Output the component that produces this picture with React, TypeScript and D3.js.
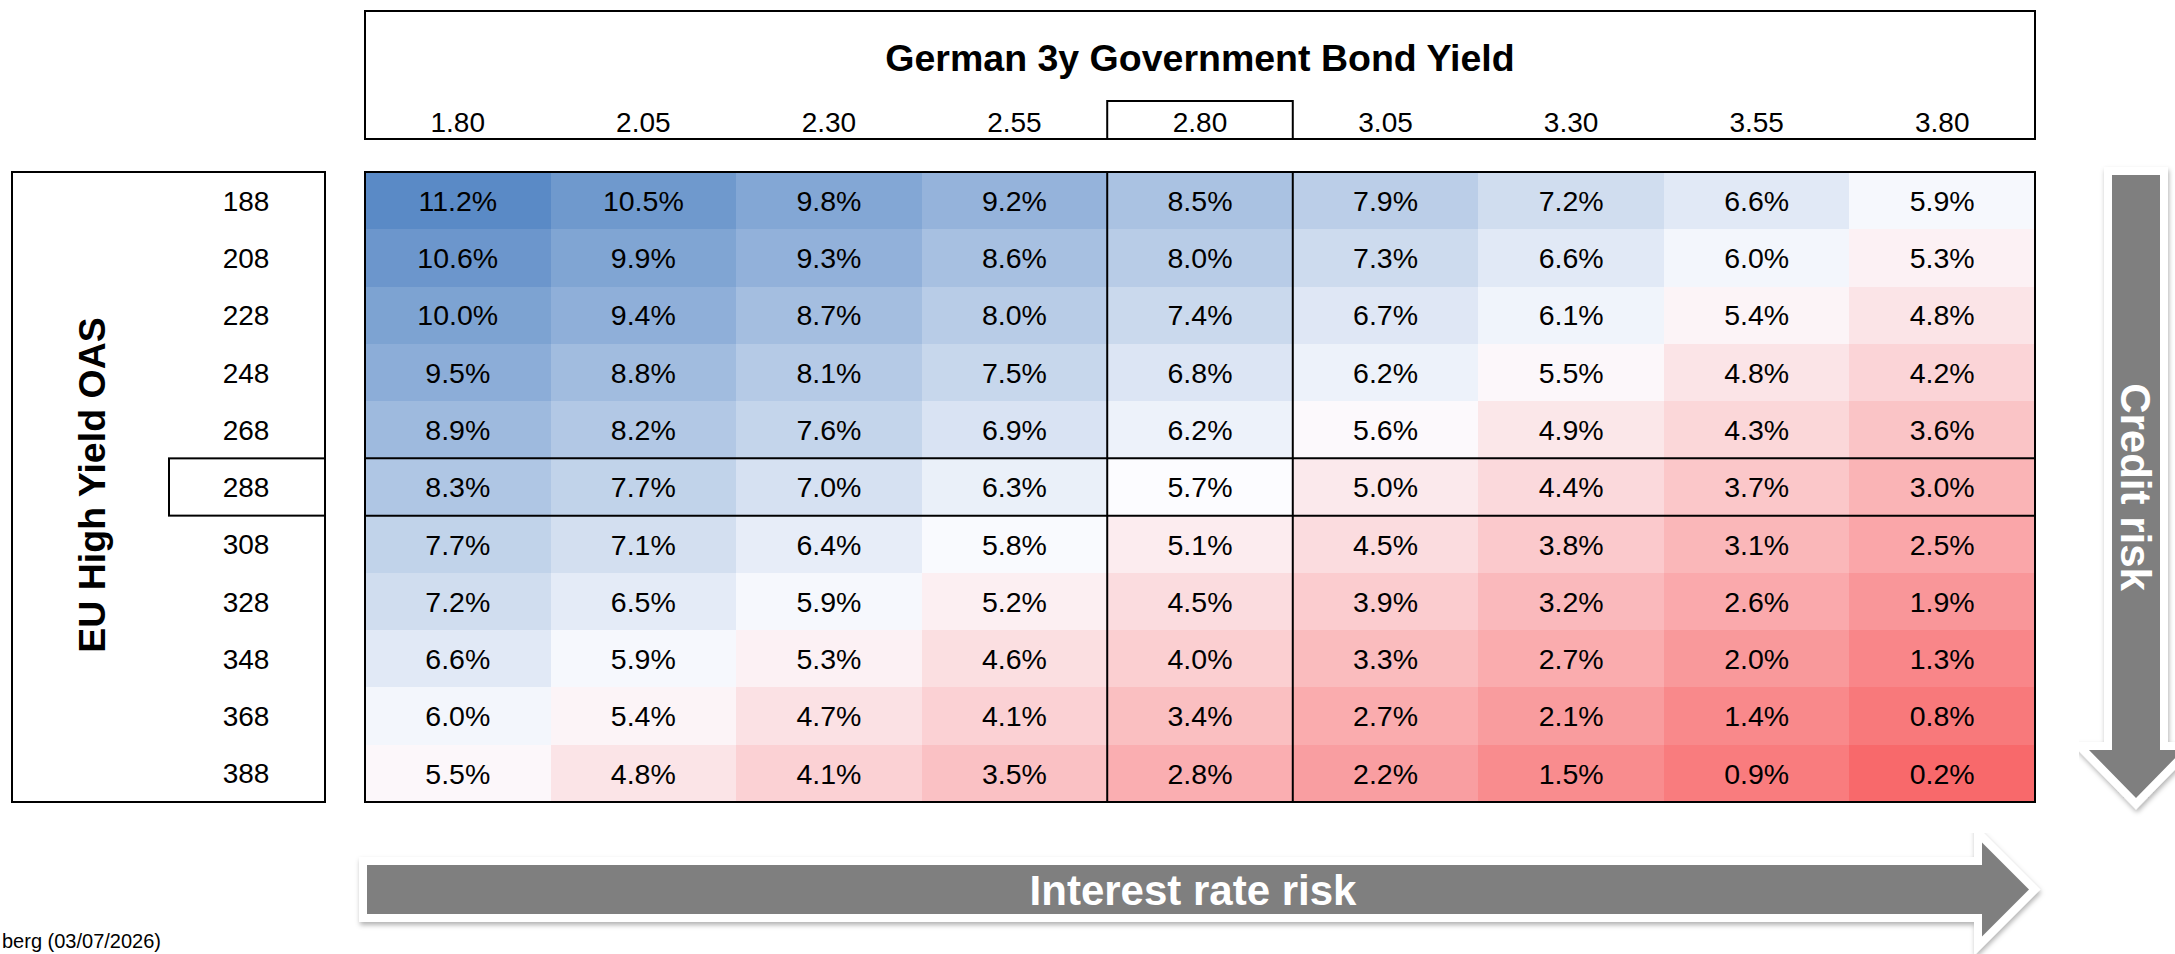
import React from "react";
import * as d3 from "d3";

const bundYields = ["1.80", "2.05", "2.30", "2.55", "2.80", "3.05", "3.30", "3.55", "3.80"];
const hySpreads = ["188", "208", "228", "248", "268", "288", "308", "328", "348", "368", "388"];
const currentYield = "2.80";
const currentSpread = "288";

// Expected total return (%) — rows: spread, columns: yield
const row188 = [11.2, 10.5, 9.8, 9.2, 8.5, 7.9, 7.2, 6.6, 5.9];
const row208 = [10.6, 9.9, 9.3, 8.6, 8.0, 7.3, 6.6, 6.0, 5.3];
const row228 = [10.0, 9.4, 8.7, 8.0, 7.4, 6.7, 6.1, 5.4, 4.8];
const row248 = [9.5, 8.8, 8.1, 7.5, 6.8, 6.2, 5.5, 4.8, 4.2];
const row268 = [8.9, 8.2, 7.6, 6.9, 6.2, 5.6, 4.9, 4.3, 3.6];
const row288 = [8.3, 7.7, 7.0, 6.3, 5.7, 5.0, 4.4, 3.7, 3.0];
const row308 = [7.7, 7.1, 6.4, 5.8, 5.1, 4.5, 3.8, 3.1, 2.5];
const row328 = [7.2, 6.5, 5.9, 5.2, 4.5, 3.9, 3.2, 2.6, 1.9];
const row348 = [6.6, 5.9, 5.3, 4.6, 4.0, 3.3, 2.7, 2.0, 1.3];
const row368 = [6.0, 5.4, 4.7, 4.1, 3.4, 2.7, 2.1, 1.4, 0.8];
const row388 = [5.5, 4.8, 4.1, 3.5, 2.8, 2.2, 1.5, 0.9, 0.2];
const grid = [row188, row208, row228, row248, row268, row288, row308, row328, row348, row368, row388];

const titleTop = "German 3y Government Bond Yield";
const titleLeft = "EU High Yield OAS";
const arrowRight = "Credit risk";
const arrowBottom = "Interest rate risk";
const sourceText = "berg (03/07/2026)";

const W = 2175;
const H = 954;
const FONT = "'Liberation Sans', Arial, Helvetica, sans-serif";

export default function App() {
  const x = d3.scaleBand<string>().domain(bundYields).range([365, 2035]);
  const y = d3.scaleBand<string>().domain(hySpreads).range([172, 802]);
  const bw = x.bandwidth();
  const bh = y.bandwidth();

  const all = grid.flat();
  const vMin = d3.min(all) as number;
  const vMax = d3.max(all) as number;
  const vMid = d3.median(all) as number;
  const color = d3
    .scaleLinear<string>()
    .domain([vMin, vMid, vMax])
    .range(["#F8696B", "#FCFCFF", "#5A8AC6"])
    .interpolate(d3.interpolateRgb);
  const fmt = d3.format(".1f");

  const [x0, x1] = x.range();
  const [y0, y1] = y.range();

  // horizontal arrow geometry
  const hx0 = 367, hx1 = 1982, hcy = 889.5, hs = 24.5, hh = 47, htip = 2029;
  const hPath = `M${hx0},${hcy - hs}L${hx1},${hcy - hs}L${hx1},${hcy - hh}L${htip},${hcy}L${hx1},${hcy + hh}L${hx1},${hcy + hs}L${hx0},${hcy + hs}Z`;
  // vertical arrow geometry
  const vcx = 2136, vy0 = 175, vy1 = 750, vs = 24, vh = 47, vtip = 798;
  const vPath = `M${vcx - vs},${vy0}L${vcx + vs},${vy0}L${vcx + vs},${vy1}L${vcx + vh},${vy1}L${vcx},${vtip}L${vcx - vh},${vy1}L${vcx - vs},${vy1}L${vcx - vs},${vy0}Z`;

  const selX = x(currentYield) as number;
  const selY = y(currentSpread) as number;

  return (
    <svg
      width={W}
      height={H}
      viewBox={`0 0 ${W} ${H}`}
      style={{ position: "absolute", left: 0, top: 0, display: "block", background: "#fff" }}
      fontFamily={FONT}
    >
      <defs>
        <filter id="shadow" x="-10%" y="-10%" width="120%" height="130%">
          <feDropShadow dx="1" dy="3" stdDeviation="2.5" floodColor="#000" floodOpacity="0.3" />
        </filter>
      </defs>
      <rect x={0} y={0} width={W} height={H} fill="#fff" />

      {/* header box */}
      <rect x={x0} y={11} width={x1 - x0} height={128} fill="none" stroke="#000" strokeWidth={2} />
      <text x={(x0 + x1) / 2} y={71} textAnchor="middle" fontSize={37.5} fontWeight="bold" fill="#000">
        {titleTop}
      </text>
      {bundYields.map((c) => (
        <text key={c} x={(x(c) as number) + bw / 2} y={132} textAnchor="middle" fontSize={28} fill="#000">
          {c}
        </text>
      ))}
      <path d={`M${selX},139V101H${selX + bw}V139`} fill="none" stroke="#000" strokeWidth={2} />

      {/* cells */}
      <g shapeRendering="crispEdges">
        {hySpreads.map((r, i) =>
          bundYields.map((c, j) => (
            <rect
              key={r + c}
              x={x(c) as number}
              y={y(r) as number}
              width={bw + 0.5}
              height={bh + 0.5}
              fill={color(grid[i][j])}
            />
          ))
        )}
      </g>
      {hySpreads.map((r, i) =>
        bundYields.map((c, j) => (
          <text
            key={"t" + r + c}
            x={(x(c) as number) + bw / 2}
            y={(y(r) as number) + bh / 2}
            dy="0.36em"
            textAnchor="middle"
            fontSize={28.5}
            fill="#000"
          >
            {fmt(grid[i][j]) + "%"}
          </text>
        ))
      )}
      {/* highlight lines */}
      <line x1={selX} x2={selX} y1={y0} y2={y1} stroke="#000" strokeWidth={2} />
      <line x1={selX + bw} x2={selX + bw} y1={y0} y2={y1} stroke="#000" strokeWidth={2} />
      <line x1={x0} x2={x1} y1={selY} y2={selY} stroke="#000" strokeWidth={2} />
      <line x1={x0} x2={x1} y1={selY + bh} y2={selY + bh} stroke="#000" strokeWidth={2} />
      <rect x={x0} y={y0} width={x1 - x0} height={y1 - y0} fill="none" stroke="#000" strokeWidth={2} />

      {/* left axis box */}
      <rect x={12} y={y0} width={313} height={y1 - y0} fill="none" stroke="#000" strokeWidth={2} />
      <rect x={169} y={selY} width={156} height={bh} fill="none" stroke="#000" strokeWidth={2} />
      {hySpreads.map((r) => (
        <text key={"r" + r} x={246} y={(y(r) as number) + bh / 2} dy="0.36em" textAnchor="middle" fontSize={28} fill="#000">
          {r}
        </text>
      ))}
      <text
        transform={`translate(91,${(y0 + y1) / 2 - 2}) rotate(-90)`}
        dy="0.36em"
        textAnchor="middle"
        fontSize={37.5}
        fontWeight="bold"
        fill="#000"
      >
        {titleLeft}
      </text>

      {/* arrows */}
      <path
        d={vPath}
        fill="#7F7F7F"
        stroke="#fff"
        strokeWidth={16}
        strokeLinejoin="miter"
        strokeMiterlimit={10}
        style={{ paintOrder: "stroke" }}
        filter="url(#shadow)"
      />
      <text
        transform={`translate(${vcx},${(y0 + y1) / 2}) rotate(90)`}
        dy="0.36em"
        textAnchor="middle"
        fontSize={42}
        fontWeight="bold"
        fill="#fff"
      >
        {arrowRight}
      </text>
      <path
        d={hPath}
        fill="#7F7F7F"
        stroke="#fff"
        strokeWidth={16}
        strokeLinejoin="miter"
        strokeMiterlimit={10}
        style={{ paintOrder: "stroke" }}
        filter="url(#shadow)"
      />
      <text x={1193} y={hcy} dy="0.36em" textAnchor="middle" fontSize={42} fontWeight="bold" fill="#fff">
        {arrowBottom}
      </text>

      {/* source */}
      <text x={2} y={948} fontSize={20} fill="#000">
        {sourceText}
      </text>
    </svg>
  );
}
